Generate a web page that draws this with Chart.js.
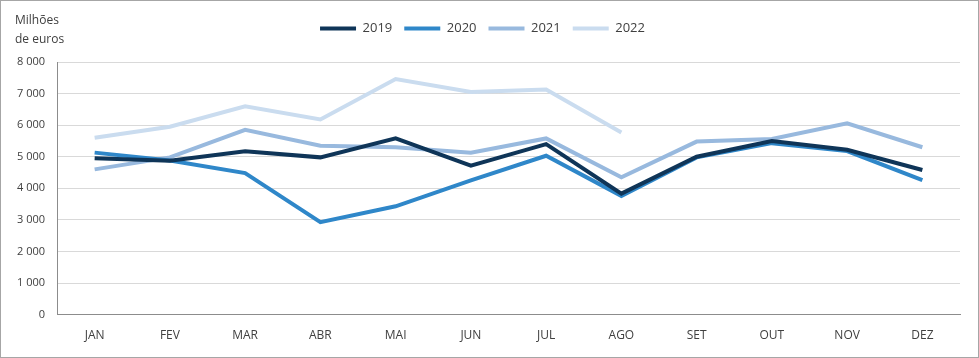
<!DOCTYPE html>
<html>
<head>
<meta charset="utf-8">
<script src="https://cdn.jsdelivr.net/npm/chart.js@4.4.1/dist/chart.umd.min.js"></script>
<style>
  html, body { margin: 0; padding: 0; background: #fff; }
  #wrap { position: relative; width: 977px; height: 356px; border: 1px solid #a6a6a6; }
  #ytitle { position: absolute; left: 14px; top: 9px; font: 12px "Open Sans", sans-serif; color: #404040; line-height: 19px; }
</style>
</head>
<body>
<div id="wrap">
  <canvas id="c" width="977" height="356"></canvas>
  <div id="ytitle">Milhões<br>de euros</div>
</div>
<script>
  // meses e valores (milhões de euros)
  const months = ['JAN', 'FEV', 'MAR', 'ABR', 'MAI', 'JUN', 'JUL', 'AGO', 'SET', 'OUT', 'NOV', 'DEZ'];
  const v2019 = [4950, 4870, 5170, 4980, 5580, 4720, 5400, 3830, 5000, 5500, 5220, 4580];
  const v2020 = [5130, 4880, 4480, 2930, 3430, 4250, 5030, 3760, 4980, 5430, 5180, 4260];
  const v2021 = [4600, 4980, 5850, 5350, 5300, 5130, 5580, 4350, 5480, 5560, 6060, 5300];
  const v2022 = [5600, 5950, 6600, 6180, 7460, 7050, 7130, 5770, null, null, null, null];

  const series = [
    { label: '2019', data: v2019, color: '#0f3558' },
    { label: '2020', data: v2020, color: '#2f87c9' },
    { label: '2021', data: v2021, color: '#98b9de' },
    { label: '2022', data: v2022, color: '#cadcef' },
  ];

  const fmt = (v) => v >= 1000 ? Math.floor(v / 1000) + ' ' + String(v % 1000).padStart(3, '0') : String(v);

  // espaço extra entre a legenda e a área do gráfico
  const legendGap = {
    id: 'legendGap',
    beforeInit(chart) {
      const fit = chart.legend.fit;
      chart.legend.fit = function () {
        fit.call(this);
        this.height += 17;
      };
    },
  };

  new Chart(document.getElementById('c'), {
    type: 'line',
    data: {
      labels: months,
      datasets: series.map((s) => ({
        label: s.label,
        data: s.data,
        borderColor: s.color,
        backgroundColor: s.color,
        borderWidth: 4,
        pointRadius: 0,
        pointStyle: 'line',
        tension: 0,
        fill: false,
      })),
    },
    plugins: [legendGap],
    options: {
      responsive: false,
      animation: false,
      layout: { padding: { top: 9, right: 18, left: 4, bottom: 8 } },
      plugins: {
        legend: {
          position: 'top',
          labels: {
            usePointStyle: true,
            pointStyleWidth: 36,
            boxHeight: 4,
            padding: 12,
            color: '#404040',
            font: { family: 'Open Sans', size: 13 },
          },
        },
        tooltip: { enabled: false },
      },
      scales: {
        x: {
          offset: true,
          grid: { display: false },
          border: { color: '#8c8c8c', width: 1 },
          ticks: { color: '#404040', font: { family: 'Open Sans', size: 12 }, padding: 6 },
        },
        y: {
          min: 0,
          max: 8000,
          grid: { color: '#d9d9d9', drawTicks: false },
          border: { color: '#8c8c8c', width: 1 },
          ticks: {
            stepSize: 1000,
            color: '#404040',
            padding: 12,
            font: { family: 'Open Sans', size: 11 },
            callback: (v) => fmt(v),
          },
        },
      },
    },
  });
</script>
</body>
</html>
